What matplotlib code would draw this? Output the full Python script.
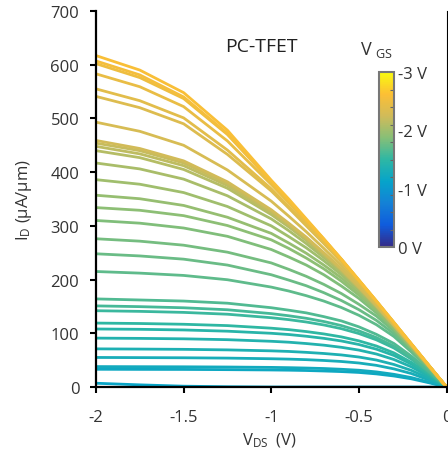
import matplotlib.pyplot as plt
from matplotlib.colors import LinearSegmentedColormap, Normalize
from matplotlib.cm import ScalarMappable

plt.rcParams['font.family'] = ['Open Sans', 'DejaVu Sans']
plt.rcParams['mathtext.fontset'] = 'custom'
plt.rcParams['mathtext.rm'] = 'Open Sans'
plt.rcParams['mathtext.it'] = 'Open Sans:italic'

# drain voltage sample points (V)
vds = [-2.0, -1.75, -1.5, -1.25, -1.0, -0.9, -0.8, -0.7, -0.6, -0.5,
       -0.4, -0.3, -0.2, -0.1, 0.0]

# gate voltage of each sweep (V), lowest current first
vgs = [-1.10, -1.15, -1.20, -1.25, -1.30, -1.35, -1.40, -1.45, -1.50, -1.55,
       -1.60, -1.65, -1.70, -1.75, -1.80, -1.85, -1.90, -1.95, -2.00, -2.05,
       -2.10, -2.15, -2.20, -2.25, -2.30, -2.35, -2.40, -2.45, -2.50, -2.55,
       -2.60]

# drain current (uA/um) at the vds points
id_ua = [
    [0, 0, 0, 0, 0, 0, 0, 0, 0, 0, 0, 0, 0, 0, 0],
    [7, 4, 1.5, 0.5, 0, 0, 0, 0, 0, 0, 0, 0, 0, 0, 0],
    [33, 32.8, 32.7, 32.3, 31.7, 31.3, 30.7, 29.8, 28.7, 27.1, 24.4, 20.5, 15.2, 7.9, 0],
    [38, 37.8, 37.6, 37.2, 36.5, 36, 35.3, 34.4, 33, 31.2, 28.1, 23.6, 17.5, 9.1, 0],
    [55, 54.7, 54.4, 53.8, 52.6, 51.9, 50.9, 49.4, 47.5, 44.7, 40.3, 33.7, 25, 13, 0],
    [71, 70.6, 70.1, 69.1, 67.3, 66.2, 64.5, 62.4, 59.7, 55.8, 50.2, 41.9, 30.9, 16.1, 0],
    [91, 90.5, 89.7, 88.1, 85.1, 83.4, 80.9, 77.9, 73.9, 68.7, 61.4, 51.2, 37.4, 19.6, 0],
    [108, 107.4, 106.2, 103.9, 100, 97.7, 94.5, 90.6, 85.7, 79.1, 70.4, 58.7, 42.5, 22.3, 0],
    [119, 118.2, 116.8, 114.3, 109.5, 106.8, 103.2, 98.8, 93.3, 85.9, 76.3, 63.5, 45.7, 24, 0],
    [142, 140.8, 138.9, 135.5, 129, 125.4, 121, 115.5, 108.6, 99.5, 87.8, 72.6, 51.8, 27, 0],
    [151, 149.6, 147.5, 143.8, 136.6, 132.6, 127.9, 121.9, 114.4, 104.5, 92, 75.8, 54, 28, 0],
    [164, 162, 160, 156, 147.6, 143, 138, 131, 123, 112, 98, 81, 57.4, 29.7, 0],
    [215, 212, 207.7, 199.7, 186, 178.7, 170, 160, 148, 133.5, 116, 94, 65, 33.5, 0],
    [248, 244, 238, 227, 209, 199, 188.5, 175.6, 161, 144, 124, 99, 67.5, 34.7, 0],
    [276, 271.5, 264, 251, 231, 219, 206, 191, 174, 154, 132, 104, 70.7, 36.2, 0],
    [310, 305, 296, 280.5, 256, 242, 227, 209, 188, 165, 138, 107.6, 72.5, 36.9, 0],
    [334, 329, 319, 300.6, 274, 258, 240, 220, 197, 171, 142, 109, 73, 37, 0],
    [357, 350.5, 338, 316, 286, 268, 249, 227, 203, 175, 145, 111, 74, 37.8, 0],
    [386, 377.5, 362, 336, 300, 280, 259, 235, 209, 180, 148, 113, 76, 38.3, 0],
    [417, 406, 387, 356, 313, 291, 267, 241, 214, 183, 149.5, 113.5, 76.5, 38.5, 0],
    [440, 427, 405, 370, 321, 298, 273, 245, 216, 184, 150, 114, 77, 38.7, 0],
    [448, 434, 412, 375, 325, 301, 276, 247, 218, 185, 151, 115, 77.5, 39, 0],
    [454, 440, 417, 379, 328, 303, 277, 249, 219, 186, 152, 115, 77.6, 39, 0],
    [459, 444, 421, 382, 330, 305, 279, 250, 220, 187, 152, 115, 78, 39, 0],
    [493, 476, 450, 404, 346, 318, 289, 258, 226, 191, 155, 117, 78.5, 39.4, 0],
    [541, 520, 490, 433, 365, 333, 300, 267, 233, 196, 157, 118, 79, 39.5, 0],
    [555, 533, 501, 441, 369, 336, 303, 269, 234, 196, 158, 118, 79, 39.5, 0],
    [583, 559, 522, 458, 377, 343, 308, 273, 237, 198, 159, 120, 80, 40, 0],
    [602, 576, 537, 470, 382, 347, 311, 275, 238, 199, 160, 120, 80, 40, 0],
    [607, 581, 540, 472, 383, 348, 311, 275, 238, 199, 160, 120, 80, 40, 0],
    [617, 590, 548, 478, 385, 350, 313, 276, 238, 199, 160, 120, 80, 40, 0],
]

parula = ['#352a87', '#0f5cdd', '#1481d6', '#06a4ca', '#2eb7a4',
          '#87bf77', '#d1bb59', '#fcbf35', '#f9fb0e']
cmap = LinearSegmentedColormap.from_list('parula', parula)
norm = Normalize(0, 3)

text_col = '#333333'

fig = plt.figure(figsize=(4.48, 4.60), dpi=100)
ax = fig.add_axes([96 / 448, 72 / 460, 350.5 / 448, 376 / 460])

for vg, row in zip(vgs, id_ua):
    ax.plot(vds, row, color=cmap(norm(-vg)), lw=2.0,
            solid_capstyle='round', solid_joinstyle='round')

ax.set_xlim(-2, 0)
ax.set_ylim(0, 700)
ax.set_xticks([-2, -1.5, -1, -0.5, 0])
ax.set_xticklabels(['-2', '-1.5', '-1', '-0.5', '0'])
ax.set_yticks(range(0, 701, 100))

ax.spines['top'].set_visible(False)
ax.spines['right'].set_linewidth(0.8)
ax.spines['left'].set_linewidth(1.6)
ax.spines['bottom'].set_linewidth(1.6)
ax.tick_params(direction='out', length=4, width=1.5, labelsize=12,
               labelcolor=text_col)
ax.tick_params(axis='x', pad=12)
ax.tick_params(axis='y', pad=8)
ax.tick_params(right=False)

fig.text(270 / 448, 1 - 441 / 460, r'V$_\mathrm{DS}$  (V)', fontsize=12,
         ha='center', va='center', color=text_col)
fig.text(24 / 448, 1 - 200 / 460, r'I$_\mathrm{D}$ (µA/µm)', fontsize=12,
         ha='center', va='center', rotation=90, color=text_col)

ax.text(-1.057, 635, 'PC-TFET', fontsize=14, ha='center', va='center',
        color='#222222')

# colour bar for gate voltage
cax = fig.add_axes([379 / 448, 1 - 248 / 460, 15 / 448, 175 / 460])
cb = fig.colorbar(ScalarMappable(norm=norm, cmap=cmap), cax=cax,
                  ticks=[0, 1, 2, 3])
cb.ax.set_yticklabels(['0 V', '-1 V', '-2 V', '-3 V'])
cb.set_ticks([0.3, 0.6, 0.9, 1.2, 1.5, 1.8, 2.1, 2.4, 2.7], minor=True)
cb.outline.set_edgecolor('#777777')
cb.outline.set_linewidth(1.5)
cb.ax.tick_params(which='both', direction='in', color='#666666', width=0.8,
                  labelsize=12, labelcolor=text_col, pad=3)
cb.ax.tick_params(which='major', length=0)
cb.ax.tick_params(which='minor', length=3)

fig.text(377 / 448, 1 - 50 / 460, r'V $_\mathrm{GS}$', fontsize=13,
         ha='center', va='center', color=text_col)

fig.savefig('out.png', dpi=100)
